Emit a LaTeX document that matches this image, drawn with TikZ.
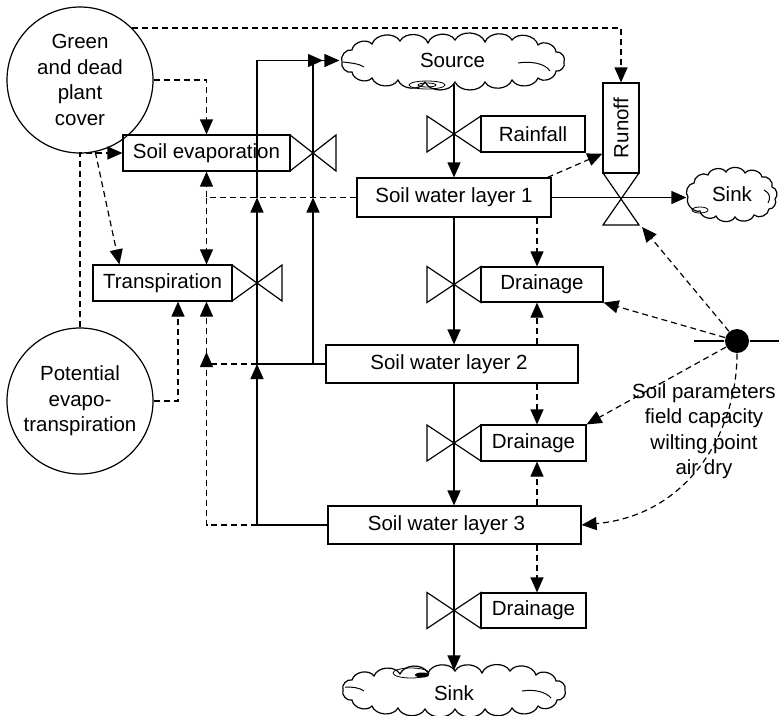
\documentclass[tikz,border=0pt]{standalone}
\usepackage{fontspec}
\setmainfont{Liberation Sans}
\usetikzlibrary{arrows.meta,calc}
\begin{document}
\begin{tikzpicture}[x=1pt,y=-1pt,line width=1.2pt,
  font=\fontsize{20.5}{25.5}\selectfont,
  box/.style={draw,rectangle,inner sep=0pt,minimum height=36pt},
  tip/.style={-{Triangle[length=15pt,width=13pt]}},
  info/.style={dash pattern=on 6pt off 4pt},
  cloudarea/.style={rectangle,inner sep=0pt},
  puff/.style={line width=1pt,bend left=65},
  curl/.style={line width=1pt},
  pics/hvalve/.style={code={\draw (-#1,-18) -- (#1,18) -- (#1,-18) -- (-#1,18) -- cycle;}},
]
\useasboundingbox (0,0) rectangle (779,715);

% state variables and external drivers
\node[circle,draw,minimum size=146pt,inner sep=0pt,align=center] (gc) at (80,80) {Green\\and dead\\plant\\cover};
\node[circle,draw,minimum size=146pt,inner sep=0pt,align=center] (pe) at (80,401) {Potential\\evapo-\\transpiration};

\node[box,minimum width=167pt] (se) at (206.5,153) {Soil evaporation};
\node[box,minimum width=139pt] (tr) at (162.5,283) {Transpiration};
\node[box,minimum width=194pt,minimum height=39pt] (l1) at (454,197.5) {Soil water layer 1};
\node[box,minimum width=252pt,minimum height=38pt,label={[xshift=-3pt]center:Soil water layer 2}] (l2) at (452,364) {};
\node[box,minimum width=253pt,minimum height=38pt,label={[xshift=-8pt]center:Soil water layer 3}] (l3) at (454.5,525) {};
\node[box,minimum width=104pt] (rain) at (533,134) {Rainfall};
\node[box,minimum width=122pt,minimum height=35pt] (d1) at (542,284.5) {Drainage};
\node[box,minimum width=105pt] (d2) at (533.5,443) {Drainage};
\node[box,minimum width=105pt,minimum height=35pt] (d3) at (533.5,610.5) {Drainage};
\node[box,minimum width=36pt,minimum height=90pt,label={[rotate=90]center:Runoff}] (ro) at (621,128) {};

% source and sinks: labelled areas with hand-drawn cloud outlines
\node[cloudarea,minimum width=225pt,minimum height=45pt] (src) at (452.5,60.5) {Source};
\node[cloudarea,minimum width=90pt,minimum height=48pt] (sk1) at (732,194) {Sink};
\node[cloudarea,minimum width=226pt,minimum height=44pt] (sk2) at (454,693) {Sink};

\draw (342,62) to[puff] (352,50) to[puff] (372,44) to[puff] (400,41) to[puff] (428,43)
  to[puff] (455,40) to[puff] (485,42) to[puff] (512,40) to[puff] (538,45) to[puff] (556,52)
  to[puff] (564,62) to[puff] (556,71) to[puff] (538,78) to[puff] (512,80) to[puff] (485,82)
  to[puff] (455,82) to[puff] (425,82) to[puff] (398,80) to[puff] (372,78) to[puff] (352,72)
  to[puff] (342,62);
\draw (688,197) to[puff] (694,183) to[puff] (708,175) to[puff] (726,172) to[puff] (745,173)
  to[puff] (762,177) to[puff] (772,187) to[puff] (775,199) to[puff] (769,209) to[puff] (754,215)
  to[puff] (735,217) to[puff] (716,216) to[puff] (700,211) to[puff] (688,197);
\draw (343,690) to[puff] (352,680) to[puff] (374,676) to[puff] (400,674) to[puff] (428,673)
  to[puff] (455,671) to[puff] (482,673) to[puff] (510,671) to[puff] (536,675) to[puff] (556,681)
  to[puff] (565,690) to[puff] (557,700) to[puff] (538,706) to[puff] (512,708) to[puff] (485,709)
  to[puff] (455,709) to[puff] (425,709) to[puff] (398,708) to[puff] (372,706) to[puff] (352,700)
  to[puff] (343,690);
\draw[curl] (343,62) .. controls (352,63) and (360,64) .. (364,67);
\draw[curl] (518,63) .. controls (530,61) and (545,63) .. (550,71);
\draw[curl] (345,687) .. controls (354,687) and (360,688) .. (364,691);
\draw[curl] (522,691) .. controls (535,689) and (546,692) .. (551,698);
\draw[curl] (764,190) .. controls (770,193) and (771,198) .. (768,203);
\draw[line width=0.8pt] (427,85) ellipse [x radius=18pt,y radius=4pt];
\draw[line width=0.8pt] (427,85) ellipse [x radius=9pt,y radius=2pt];
\draw[line width=0.8pt] (411,673) ellipse [x radius=18pt,y radius=5pt];
\fill (422,675) ellipse [x radius=7pt,y radius=2.5pt];
\draw[line width=0.8pt] (700,210) ellipse [x radius=8pt,y radius=3pt];

% valves
\coordinate (vse) at (313,153);
\coordinate (vtr) at (257,283);
\coordinate (vrn) at (454,134);
\coordinate (vd1) at (454,284.5);
\coordinate (vd2) at (454,443);
\coordinate (vd3) at (454,610.5);
\coordinate (vro) at (621,198);
\pic at (vse) {hvalve=23};
\pic at (vtr) {hvalve=25};
\pic at (vrn) {hvalve=27};
\pic at (vd1) {hvalve=27};
\pic at (vd2) {hvalve=27};
\pic at (vd3) {hvalve=27};
\draw ($(vro)+(-18,-25)$) -- ($(vro)+(18,27)$) -- ($(vro)+(-18,27)$) -- ($(vro)+(18,-25)$) -- cycle;

% water flows
\draw[tip] (vrn |- src.south) -- (vrn |- l1.north);
\draw[tip] (vd1 |- l1.south) -- (vd1 |- l2.north);
\draw[tip] (vd2 |- l2.south) -- (vd2 |- l3.north);
\draw[tip] (vd3 |- l3.south) -- (vd3 |- sk2.north);
\draw[tip] (l1.east) -- (sk1.west |- l1.east);
\draw[tip] (l3.west) -| (vtr |- l2.west);
\draw (l2.west) -- (vtr |- l2.west);
\draw[tip] (vtr |- l2.west) -- (vtr |- l1.west);
\draw[tip] (vtr |- l1.west) |- ([xshift=10pt]vse |- src.west);
\draw[tip] (vse |- l2.west) -- (vse |- l1.west);
\draw[tip] (vse |- l1.west) |- (src.west);

% information links
\draw[info,tip] (gc.45) -| (ro.north);
\draw[info,tip] (gc.east) -| (se.north);
\draw[info,tip] (gc.-78) -- ([xshift=27pt]tr.north west);
\draw[info,tip] (pe.north) |- (se.west);
\draw[info,tip] (pe.east) -| ([xshift=15.5pt]tr.south);
\draw[info,tip] (l1.west) -| (se.south);
\draw[info,tip] (se.south |- l1.west) -- (se.south |- tr.north);
\draw[info] (vtr |- l3.west) -| (se.south |- l2.west);
\draw[info,tip] (vtr |- l2.west) -| ([yshift=12pt]se.south |- l2.west);
\draw[info,tip] (se.south |- l2.west) -- (se.south |- tr.south);
\draw[info,tip] ([xshift=-4pt]l1.north east) -- ([yshift=20pt]ro.south west);

\coordinate (dx) at (537,0);
\draw[info,tip] (dx |- l1.south) -- (dx |- d1.north);
\draw[info,tip] (dx |- l2.north) -- (dx |- d1.south);
\draw[info,tip] (dx |- l2.south) -- (dx |- d2.north);
\draw[info,tip] (dx |- l3.north) -- (dx |- d2.south);
\draw[info,tip] (dx |- l3.south) -- (dx |- d3.north);

% soil parameters
\node[circle,fill,minimum size=24pt,inner sep=0pt] (sp) at (737,341) {};
\draw (sp.west) -- ++(-30,0) (sp.east) -- ++(30,0);
\draw[info,tip] (sp) -- ($(vro)+(21,29)$);
\draw[info,tip] (sp) -- (d1.south east);
\draw[info,tip] (sp) -- (d2.north east);
\draw[info,tip] (sp.south) .. controls (737,430) and (690,515) .. (l3.east);
\node[align=center] (spt) at (704,431) {Soil parameters\\field capacity\\wilting point\\air dry};
\end{tikzpicture}
\end{document}
